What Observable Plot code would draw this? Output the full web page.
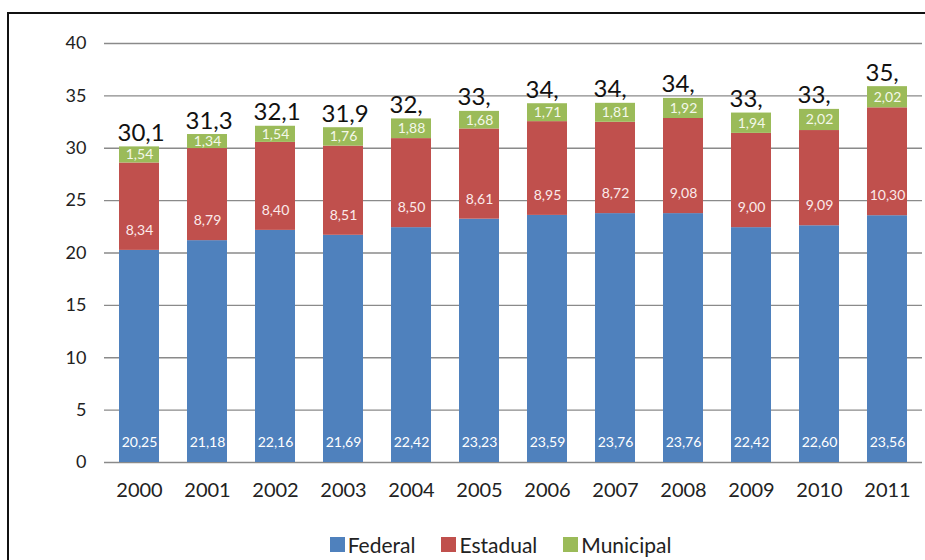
<!DOCTYPE html>
<html>
<head>
<meta charset="utf-8">
<script src="https://cdn.jsdelivr.net/npm/d3@7"></script>
<script src="https://cdn.jsdelivr.net/npm/@observablehq/plot@0.6"></script>
<style>
  html, body { margin: 0; padding: 0; background: #fff; }
  #wrap { position: relative; width: 925px; height: 560px; overflow: hidden; font-family: Lato, "Open Sans", sans-serif; }
  #frame { position: absolute; left: 7px; top: 12px; width: 940px; height: 600px; border-top: 2px solid #111; border-left: 2px solid #111; }
  #chart { position: absolute; left: 0; top: 0; }
  #legend { position: absolute; left: 0; width: 925px; top: 532px; display: flex; justify-content: center; gap: 26px; font-size: 21px; color: #222; padding-left: 76px; box-sizing: border-box; }
  #legend .item { display: flex; align-items: center; gap: 3px; }
  #legend .sw { width: 15px; height: 15px; display: inline-block; }
</style>
</head>
<body>
<div id="wrap">
  <div id="frame"></div>
  <div id="chart"></div>
  <div id="legend"></div>
</div>
<script>
const years = [2000, 2001, 2002, 2003, 2004, 2005, 2006, 2007, 2008, 2009, 2010, 2011];
const federal = [20.25, 21.18, 22.16, 21.69, 22.42, 23.23, 23.59, 23.76, 23.76, 22.42, 22.60, 23.56];
const estadual = [8.34, 8.79, 8.40, 8.51, 8.50, 8.61, 8.95, 8.72, 9.08, 9.00, 9.09, 10.30];
const municipal = [1.54, 1.34, 1.54, 1.76, 1.88, 1.68, 1.71, 1.81, 1.92, 1.94, 2.02, 2.02];
const totalLabels = ["30,1", "31,3", "32,1", "31,9", "32,", "33,", "34,", "34,", "34,", "33,", "33,", "35,"];
const yTicks = [0, 5, 10, 15, 20, 25, 30, 35, 40];
const seriesNames = ["Federal", "Estadual", "Municipal"];
const seriesColors = ["#4F81BD", "#C0504D", "#9BBB59"];

const fmt = v => v.toFixed(2).replace(".", ",");
const seriesValues = [federal, estadual, municipal];

const rows = [];
years.forEach((yr, i) => {
  seriesNames.forEach((s, k) => rows.push({year: String(yr), series: s, value: seriesValues[k][i]}));
});
const perYear = years.map((yr, i) => ({
  year: String(yr),
  fed: federal[i],
  est: estadual[i],
  mun: municipal[i],
  total: federal[i] + estadual[i] + municipal[i],
  label: totalLabels[i]
}));

const plot = Plot.plot({
  width: 925,
  height: 510,
  marginTop: 43,
  marginBottom: 48,
  marginLeft: 104,
  marginRight: 3,
  style: { fontFamily: "Lato, 'Open Sans', sans-serif", color: "#222", background: "transparent" },
  x: { domain: years.map(String), paddingInner: 0.41, paddingOuter: 0.2, label: null },
  y: { domain: [0, 40], label: null },
  color: { domain: seriesNames, range: seriesColors },
  marks: [
    Plot.gridY({ ticks: yTicks, stroke: "#8a8a8a", strokeOpacity: 1, strokeWidth: 1.3 }),
    Plot.barY(rows, Plot.stackY({ x: "year", y: "value", fill: "series", order: seriesNames })),
    Plot.axisY({ ticks: yTicks, tickSize: 0, tickPadding: 18, fontSize: 18, tickFormat: d => String(d) }),
    Plot.axisX({ tickSize: 0, tickPadding: 20, fontSize: 20 }),
    Plot.text(perYear, { x: "year", y: 0, text: d => fmt(d.fed), dy: -20, fill: "white", fontSize: 14 }),
    Plot.text(perYear, { x: "year", y: "fed", text: d => fmt(d.est), dy: -20, fill: "#fbeaea", fontSize: 14 }),
    Plot.text(perYear, { x: "year", y: d => d.fed + d.est + d.mun / 2, text: d => fmt(d.mun), fill: "#f4f8ea", fontSize: 14 }),
    Plot.text(perYear, { x: "year", y: "total", text: "label", textAnchor: "start", lineAnchor: "bottom", dx: -22, dy: -6, fontSize: 24, fill: "#111" })
  ]
});
document.getElementById("chart").appendChild(plot);

const legend = document.getElementById("legend");
seriesNames.forEach((s, k) => {
  const item = document.createElement("span");
  item.className = "item";
  const sw = document.createElement("span");
  sw.className = "sw";
  sw.style.background = seriesColors[k];
  const t = document.createElement("span");
  t.textContent = s;
  item.appendChild(sw);
  item.appendChild(t);
  legend.appendChild(item);
});
</script>
</body>
</html>
